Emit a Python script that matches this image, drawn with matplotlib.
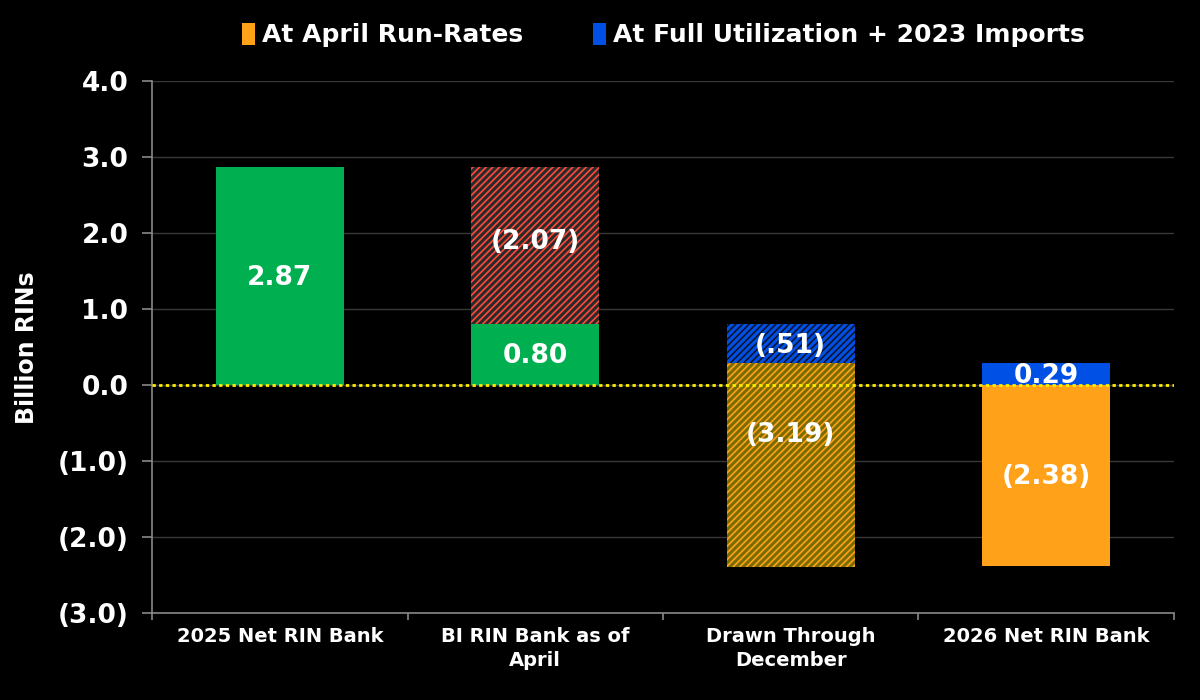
import matplotlib
matplotlib.use("Agg")
import matplotlib.pyplot as plt
from matplotlib.patches import Patch
from matplotlib.ticker import FuncFormatter

# chart data (billion RINs)
categories = ["2025 Net RIN Bank", "BI RIN Bank as of\nApril", "Drawn Through\nDecember", "2026 Net RIN Bank"]
bank_2025 = 2.87
bi_bank_april = 0.80
bi_drawn_to_april = -2.07
drawn_april_rates = -3.19
drawn_full_util = -0.51
net_2026_april = -2.38
net_2026_full = 0.29
legend_labels = ["At April Run-Rates", "At Full Utilization + 2023 Imports"]

GREEN = "#00b050"
ORANGE = "#ffa21a"
BLUE = "#0050e6"
RED = "#ff4a3a"
plt.rcParams["font.family"] = ["DejaVu Sans"]
plt.rcParams["font.weight"] = "bold"
plt.rcParams["hatch.linewidth"] = 1.2

fig = plt.figure(figsize=(12, 7), dpi=100, facecolor="black")
ax = fig.add_axes([0.1267, 0.124, 0.8516, 0.76], facecolor="black")

x = list(range(len(categories)))
w = 0.5

# 2025 bank
ax.bar(x[0], bank_2025, width=w, color=GREEN, zorder=3)

# BI bank as of April: remaining green + hatched drawn part
ax.bar(x[1], bi_bank_april, width=w, color=GREEN, zorder=3)
ax.bar(x[1], bi_drawn_to_april, bottom=bank_2025, width=w, facecolor="#2a2a2a",
       edgecolor=RED, hatch="/////", linewidth=0, zorder=3)

# Drawn through December
ax.bar(x[2], drawn_april_rates, bottom=bi_bank_april, width=w, facecolor="#7a6c00",
       edgecolor=ORANGE, hatch="/////", linewidth=0, zorder=3)
ax.bar(x[2], drawn_full_util, bottom=bi_bank_april, width=w, facecolor=BLUE,
       edgecolor="#0a1530", hatch="/////", linewidth=0, zorder=4)

# 2026 bank
ax.bar(x[3], net_2026_april, width=w, color=ORANGE, zorder=3)
ax.bar(x[3], net_2026_full, width=w, color=BLUE, zorder=3)

def paren(v):
    return f"({abs(v):.2f})"

lbl = dict(color="white", fontsize=19, fontweight="bold", ha="center", va="center", zorder=6)
ax.text(x[0], bank_2025 / 2 - 0.02, f"{bank_2025:.2f}", **lbl)
ax.text(x[1], bi_bank_april / 2 - 0.02, f"{bi_bank_april:.2f}", **lbl)
ax.text(x[1], bank_2025 + bi_drawn_to_april / 2 + 0.05, paren(bi_drawn_to_april), **lbl)
ax.text(x[2], bi_bank_april + drawn_full_util / 2 - 0.03, f"(.{int(round(abs(drawn_full_util) * 100))})", **lbl)
ax.text(x[2], -0.66, paren(drawn_april_rates), **lbl)
ax.text(x[3], net_2026_full / 2 - 0.02, f"{net_2026_full:.2f}", **lbl)
ax.text(x[3], net_2026_april / 2 - 0.02, paren(net_2026_april), **lbl)

ax.axhline(0, color="#ffee00", linestyle=(0, (1.2, 1.2)), linewidth=2, zorder=5)

ax.set_xlim(-0.5, 3.5)
ax.set_ylim(-3.0, 4.0)
ax.set_yticks([-3, -2, -1, 0, 1, 2, 3, 4])
ax.yaxis.set_major_formatter(FuncFormatter(lambda v, p: f"({abs(v):.1f})" if v < 0 else f"{v:.1f}"))
ax.grid(axis="y", color="#383838", linewidth=1, zorder=0)
ax.set_axisbelow(True)

ax.set_xticks(x)
ax.set_xticklabels(categories, fontsize=14, fontweight="bold", color="white", linespacing=1.35)
ax.set_xticks([-0.5, 0.5, 1.5, 2.5, 3.5], minor=True)
ax.tick_params(axis="x", which="major", length=0, pad=10)
ax.tick_params(axis="x", which="minor", length=5, color="#888888", width=1.2)
ax.tick_params(axis="y", length=7, color="#888888", width=1.2, labelsize=19, labelcolor="white", pad=10)
for t in ax.get_yticklabels():
    t.set_fontweight("bold")

for s in ["top", "right"]:
    ax.spines[s].set_visible(False)
for s in ["left", "bottom"]:
    ax.spines[s].set_color("#888888")
    ax.spines[s].set_linewidth(1.2)

ax.set_ylabel("Billion RINs", color="white", fontsize=17, fontweight="bold", labelpad=13)

handles = [Patch(facecolor=ORANGE), Patch(facecolor=BLUE)]
fig.legend(handles, legend_labels, loc="center", bbox_to_anchor=(0.553, 0.95), ncol=2,
           frameon=False, handlelength=0.5, handleheight=1.0,
           handletextpad=0.3, columnspacing=2.8, labelcolor="white",
           prop={"weight": "bold", "size": 18})

fig.savefig("out.png", dpi=100, facecolor="black")
